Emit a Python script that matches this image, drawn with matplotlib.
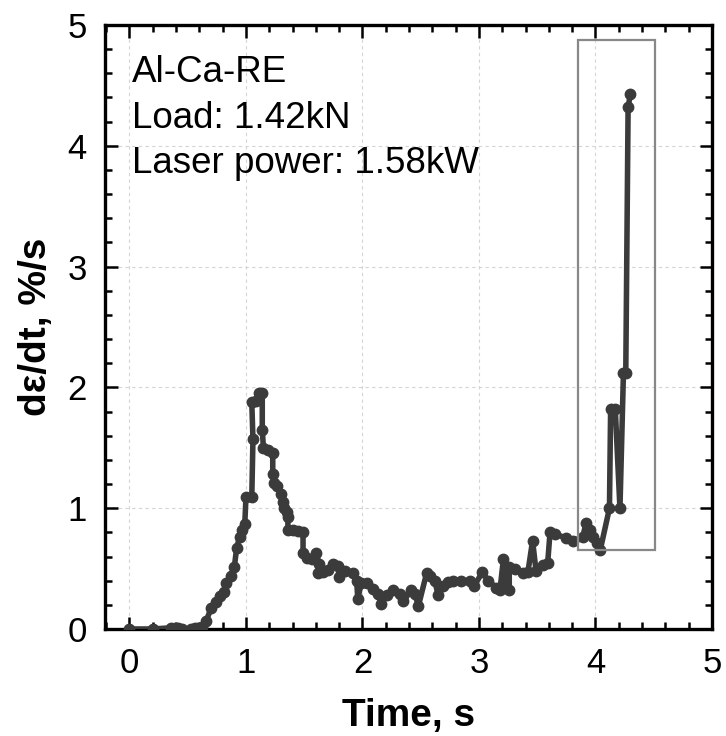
import matplotlib.pyplot as plt
from matplotlib.patches import Rectangle
from matplotlib.ticker import MultipleLocator

plt.rcParams['font.family'] = ['Liberation Sans', 'DejaVu Sans']

# strain rate curve
time_s = [0.00, 0.20, 0.36, 0.39, 0.42, 0.45, 0.53, 0.56, 0.59, 0.62,
          0.66, 0.70, 0.74, 0.78, 0.81, 0.83, 0.87, 0.90, 0.92, 0.945,
          0.97, 0.99, 1.00, 1.05, 1.06, 1.05, 1.09, 1.11, 1.14, 1.14,
          1.15, 1.19, 1.23, 1.23, 1.24, 1.27, 1.30, 1.32, 1.33, 1.35,
          1.36, 1.36, 1.40, 1.45, 1.49, 1.49, 1.52, 1.57, 1.60, 1.63,
          1.62, 1.66, 1.70, 1.75, 1.79, 1.80, 1.85, 1.92, 1.95, 1.96,
          1.99, 2.04, 2.09, 2.13, 2.16, 2.21, 2.26, 2.32, 2.35, 2.42,
          2.45, 2.48, 2.55, 2.58, 2.62, 2.65, 2.69, 2.73, 2.78, 2.85,
          2.92, 2.96, 3.03, 3.08, 3.15, 3.18, 3.21, 3.22, 3.26, 3.26,
          3.31, 3.38, 3.42, 3.46, 3.49, 3.55, 3.59, 3.61, 3.65, 3.75,
          3.81, 3.89, 3.92, 3.95, 3.98, 4.01, 4.04, 4.12, 4.13, 4.17,
          4.21, 4.24, 4.26, 4.28, 4.30]
rate = [0.00, 0.00, 0.01, 0.01, 0.01, 0.00, 0.00, 0.01, 0.01, 0.02,
        0.07, 0.17, 0.22, 0.27, 0.31, 0.38, 0.44, 0.51, 0.67, 0.76,
        0.82, 0.87, 1.09, 1.09, 1.57, 1.88, 1.89, 1.95, 1.95, 1.65,
        1.50, 1.48, 1.46, 1.28, 1.21, 1.18, 1.12, 1.05, 1.00, 0.97,
        0.93, 0.82, 0.82, 0.81, 0.80, 0.63, 0.59, 0.58, 0.63, 0.54,
        0.46, 0.47, 0.49, 0.54, 0.52, 0.43, 0.48, 0.46, 0.40, 0.25,
        0.38, 0.38, 0.33, 0.29, 0.21, 0.28, 0.32, 0.29, 0.23, 0.32,
        0.29, 0.19, 0.46, 0.44, 0.40, 0.28, 0.36, 0.39, 0.40, 0.40,
        0.40, 0.36, 0.47, 0.40, 0.34, 0.32, 0.58, 0.40, 0.32, 0.51,
        0.50, 0.46, 0.47, 0.73, 0.48, 0.53, 0.55, 0.80, 0.79, 0.75,
        0.73, 0.76, 0.88, 0.82, 0.76, 0.71, 0.65, 1.00, 1.82, 1.82,
        1.00, 2.12, 2.12, 4.32, 4.43]

# highlighted region (x0, y0, x1, y1)
box = [3.85, 0.65, 4.51, 4.88]

info = ['Al-Ca-RE', 'Load: 1.42kN', 'Laser power: 1.58kW']
info_y = [4.61, 4.23, 3.85]

fig = plt.figure(figsize=(7.26, 7.36), dpi=100)
ax = fig.add_axes([0.1446, 0.1454, 0.8361, 0.8206])

ax.plot(time_s, rate, '-o', color='#3b3b3b', lw=4.0, ms=7.5, zorder=3)

ax.add_patch(Rectangle((box[0], box[1]), box[2] - box[0], box[3] - box[1],
                       fill=False, edgecolor='#888888', lw=1.6, zorder=4))

for s, y in zip(info, info_y):
    ax.text(0.02, y, s, fontsize=26.5, va='center', ha='left')

ax.set_xlim(-0.21, 5)
ax.set_ylim(0, 5)
ax.xaxis.set_major_locator(MultipleLocator(1))
ax.xaxis.set_minor_locator(MultipleLocator(0.2))
ax.yaxis.set_major_locator(MultipleLocator(1))
ax.yaxis.set_minor_locator(MultipleLocator(0.2))

ax.grid(True, which='major', ls=(0, (3, 3)), color='#d4d4d4', lw=0.8)
ax.tick_params(which='both', direction='in', top=True, right=True,
               width=1.8, labelsize=25)
ax.tick_params(which='major', length=9, pad=13)
ax.tick_params(which='minor', length=5)
for sp in ax.spines.values():
    sp.set_linewidth(2.4)

ax.set_xlabel('Time, s', fontsize=28, fontweight='bold', labelpad=13)
ax.set_ylabel('dε/dt, %/s', fontsize=28, fontweight='bold', labelpad=10)

fig.savefig('out.png', dpi=100)
